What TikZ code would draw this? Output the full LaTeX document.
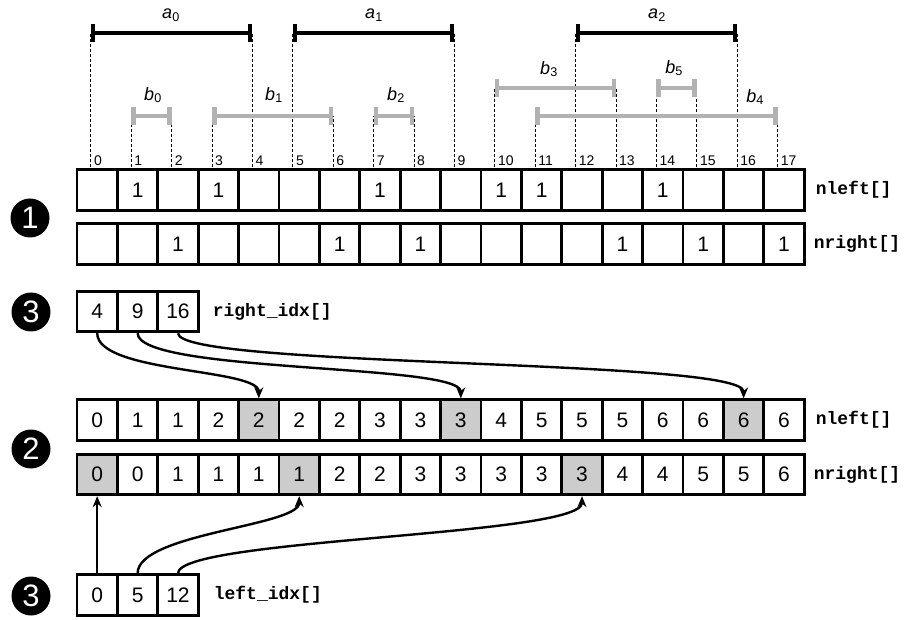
\documentclass[tikz,border=0pt]{standalone}
\usepackage{fontspec}
\setmainfont{Liberation Sans}
\setmonofont{Liberation Mono}
\usetikzlibrary{arrows.meta,positioning}

\begin{document}
\begin{tikzpicture}[
  x=1pt, y=1pt,
  cell/.style={draw, line width=2.8pt, minimum width=40.4pt, minimum height=40.5pt, inner sep=0pt, font=\fontsize{21}{21}\selectfont},
  hit/.style={cell, fill=black!20},
  arrname/.style={font=\fontsize{18}{18}\selectfont\ttfamily\bfseries, inner sep=0pt},
  stage/.style={circle, fill=black, text=white, minimum size=39pt, inner sep=0pt, font=\fontsize{31}{31}\selectfont},
  idxlbl/.style={font=\fontsize{14}{14}\selectfont, anchor=south west, inner sep=0pt},
  guide/.style={dash pattern=on 3pt off 2pt, line width=1pt},
  abar/.style={line width=4.5pt, {Bar[width=18pt]}-{Bar[width=18pt]}},
  bbar/.style={line width=4.5pt, draw=black!30, {Bar[width=18pt]}-{Bar[width=18pt]}},
  lbl/.style={font=\fontsize{18}{18}\selectfont, inner sep=0pt},
  ptr/.style={-{Stealth[length=11pt,width=9pt]}, line width=2.4pt}
]
  \useasboundingbox (0,0) rectangle (907,619);

  % positions 0..17
  \foreach \i in {0,...,17}
    \coordinate (t\i) at (90.8+40.4*\i, 452);

  % dashed guides from the interval ends
  \foreach \i in {0,4,5,9,12,16}
    \draw[guide] (t\i) -- ++(0,134);
  \foreach \i in {1,2,3,6,7,8,11,17}
    \draw[guide] (t\i) -- ++(0,51);
  \foreach \i in {10,13,14,15}
    \draw[guide] (t\i) -- ++(0,79);
  \foreach \i in {0,...,17}
    \node[idxlbl] at ([shift={(3,1)}]t\i) {\i};

  % intervals a
  \draw[abar] (t0|-0,586) -- (t4|-0,586);
  \draw[abar] (t5|-0,586) -- (t9|-0,586);
  \draw[abar] (t12|-0,586) -- (t16|-0,586);
  \node[lbl] (a0) at (171,604) {\itshape a\textsubscript{\upshape 0}};
  \node[lbl] (a1) at (374,604) {\itshape a\textsubscript{\upshape 1}};
  \node[lbl] (a2) at (657,604) {\itshape a\textsubscript{\upshape 2}};

  % intervals b
  \draw[bbar] (t1|-0,503) -- (t2|-0,503);
  \draw[bbar] (t3|-0,503) -- (t6|-0,503);
  \draw[bbar] (t7|-0,503) -- (t8|-0,503);
  \draw[bbar] (t10|-0,531) -- (t13|-0,531);
  \draw[bbar] (t14|-0,531) -- (t15|-0,531);
  \draw[bbar] (t11|-0,503) -- (t17|-0,503);
  \node[lbl] (b0) at (153,524) {\itshape b\textsubscript{\upshape 0}};
  \node[lbl] (b1) at (274,524) {\itshape b\textsubscript{\upshape 1}};
  \node[lbl] (b2) at (396,524) {\itshape b\textsubscript{\upshape 2}};
  \node[lbl] (b3) at (549,550) {\itshape b\textsubscript{\upshape 3}};
  \node[lbl] (b5) at (674,551) {\itshape b\textsubscript{\upshape 5}};
  \node[lbl] (b4) at (755,522) {\itshape b\textsubscript{\upshape 4}};

  % step 1
  \foreach \v [count=\i from 0] in {{},1,{},1,{},{},{},1,{},{},1,1,{},{},1,{},{},{}}
    \node[cell] (nla\i) at (97.2+40.4*\i, 429) {\v};
  \foreach \v [count=\i from 0] in {{},{},1,{},{},{},1,{},1,{},{},{},{},1,{},1,{},1}
    \node[cell] (nra\i) at (97.2+40.4*\i, 375) {\v};
  \node[arrname, right=10pt of nla17] (nlaname) {nleft[]};
  \node[arrname, right=8pt of nra17] (nraname) {nright[]};

  % step 2
  \foreach \v/\s [count=\i from 0] in {0/cell,1/cell,1/cell,2/cell,2/hit,2/cell,2/cell,3/cell,3/cell,
      3/hit,4/cell,5/cell,5/cell,5/cell,6/cell,6/cell,6/hit,6/cell}
    \node[\s] (nlb\i) at (97.2+40.4*\i, 199) {\v};
  \foreach \v/\s [count=\i from 0] in {0/hit,0/cell,1/cell,1/cell,1/cell,1/hit,2/cell,2/cell,3/cell,
      3/cell,3/cell,3/cell,3/hit,4/cell,4/cell,5/cell,5/cell,6/cell}
    \node[\s] (nrb\i) at (97.2+40.4*\i, 144.5) {\v};
  \node[arrname, right=10pt of nlb17] (nlbname) {nleft[]};
  \node[arrname, right=8pt of nrb17] (nrbname) {nright[]};

  % step 3
  \foreach \v [count=\i from 0] in {4,9,16}
    \node[cell] (ri\i) at (97.2+40.4*\i, 307.5) {\v};
  \foreach \v [count=\i from 0] in {0,5,12}
    \node[cell] (li\i) at (97.2+40.4*\i, 24) {\v};
  \node[arrname, right=13pt of ri2] (riname) {right\_idx[]};
  \node[arrname, right=14pt of li2] (liname) {left\_idx[]};

  \node[stage] (s1) at (30,401) {1};
  \node[stage] (s3a) at (31,307) {3};
  \node[stage] (s2) at (31,170) {2};
  \node[stage] (s3b) at (31,23) {3};

  \draw[ptr] (ri0.south) to[out=-90, in=90, out distance=40pt, in distance=30pt] (nlb4.north);
  \draw[ptr] (ri1.south) to[out=-90, in=90, out distance=40pt, in distance=35pt] (nlb9.north);
  \draw[ptr] (ri2.south) to[out=-90, in=90, out distance=35pt, in distance=40pt] (nlb16.north);
  \draw[ptr] (li0.north) -- (nrb0.south);
  \draw[ptr] (li1.north) to[out=90, in=-90, out distance=40pt, in distance=30pt] (nrb5.south);
  \draw[ptr] (li2.north) to[out=90, in=-90, out distance=35pt, in distance=40pt] (nrb12.south);
\end{tikzpicture}
\end{document}
